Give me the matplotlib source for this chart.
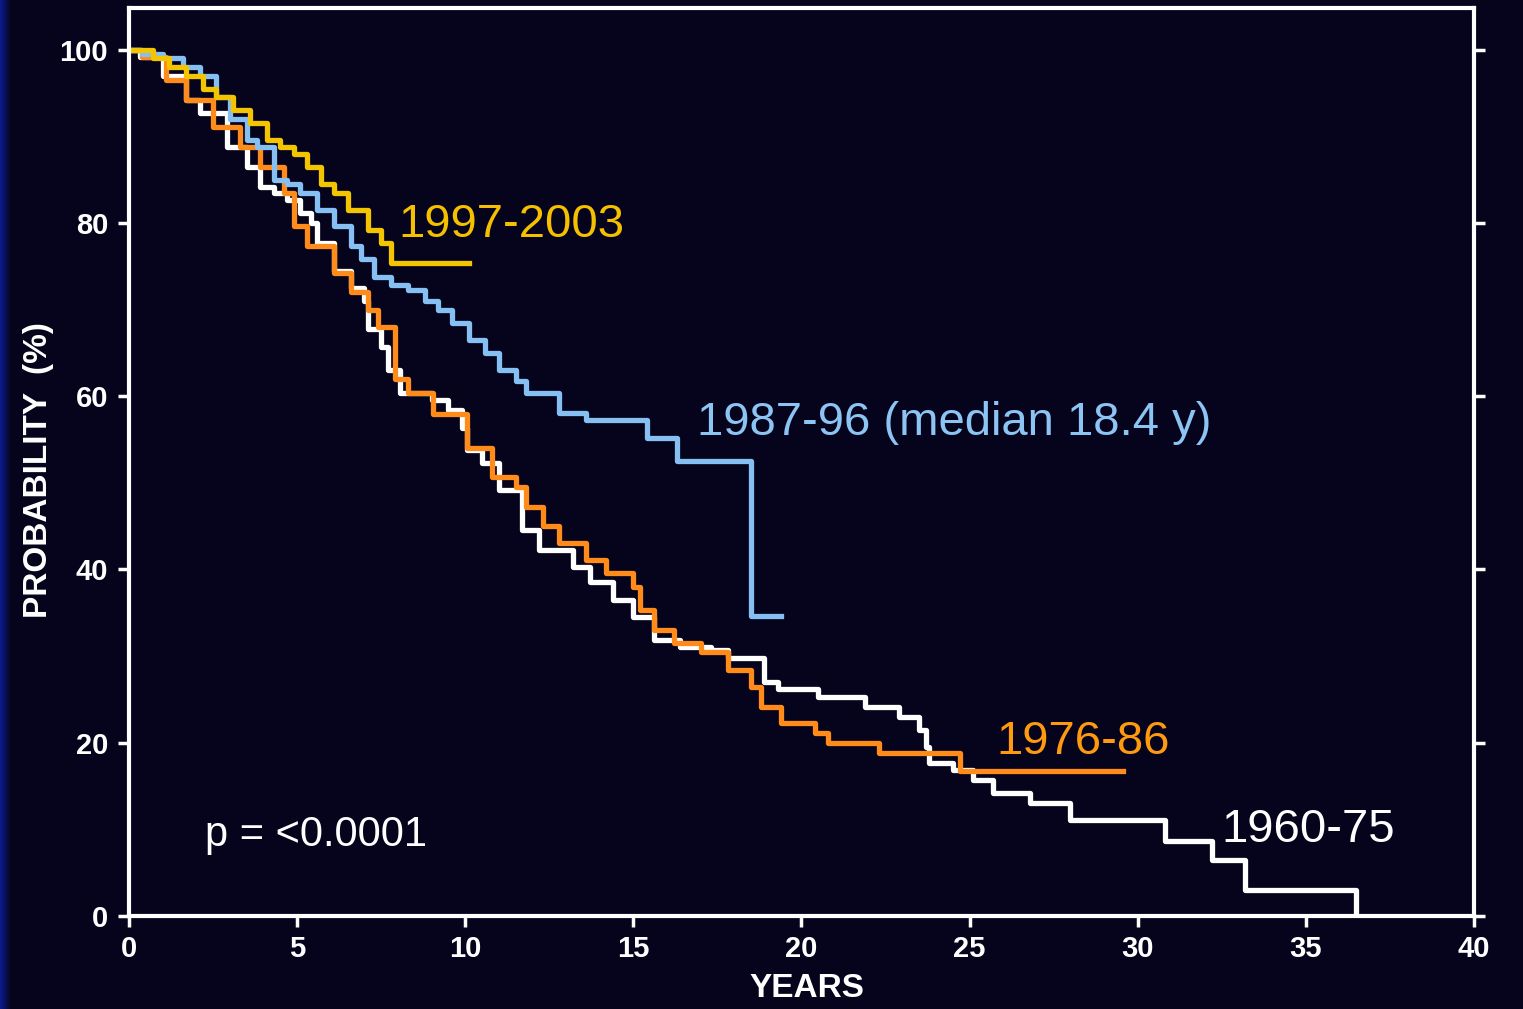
import matplotlib
matplotlib.use("Agg")
import matplotlib.pyplot as plt
import numpy as np
from matplotlib.colors import LinearSegmentedColormap

# Kaplan-Meier curves: years and survival [%]
t_1960 = [0, 0.33, 1.0, 1.7, 2.1, 2.9, 3.5, 3.9, 4.3, 4.7, 5.1, 5.4, 5.6, 6.1, 6.6, 7.0, 7.1, 7.5, 7.7, 8.07,
          9.0, 9.5, 9.9, 10.05, 10.5, 11.0, 11.7, 12.2, 13.2, 13.7, 14.4, 15.0, 15.6, 16.4, 17.3, 17.8, 18.9,
          19.3, 20.5, 21.9, 22.9, 23.5, 23.7, 23.8, 24.5, 25.1, 25.7, 26.8, 28.0, 30.8, 32.2, 33.2, 36.5]
s_1960 = [100, 99.2, 97, 94.2, 92.7, 88.8, 86.5, 84.2, 83.5, 82.7, 81.2, 80, 77.7, 74.5, 72.5, 71, 67.7, 65.7, 63, 60.4,
          59.6, 58.4, 56.3, 53.8, 52.3, 49.2, 44.6, 42.3, 40.3, 38.5, 36.5, 34.5, 31.9, 31.1, 30.7, 29.8, 27,
          26.2, 25.3, 24.1, 23, 21.5, 19.5, 17.7, 16.9, 15.7, 14.2, 13, 11.1, 8.7, 6.5, 3.0, 0]

t_1976 = [0, 0.4, 1.1, 1.7, 2.5, 3.3, 3.9, 4.6, 4.9, 5.3, 6.1, 6.6, 7.1, 7.4, 7.9, 8.3, 9.05, 10.05, 10.8, 11.5,
          11.8, 12.3, 12.8, 13.6, 14.2, 15.0, 15.2, 15.6, 16.2, 17.0, 17.8, 18.5, 18.8, 19.4, 20.4, 20.8, 22.3,
          24.7, 29.55]
s_1976 = [100, 99.2, 96.5, 94.2, 91.1, 88.8, 86.5, 83.5, 79.6, 77.3, 74.2, 72, 70, 68, 62, 60.4, 58, 54, 50.7, 49.5,
          47.2, 45, 43.1, 41.1, 39.6, 38, 35.3, 33, 31.5, 30.5, 28.4, 26.4, 24.1, 22.3, 21.1, 20, 18.8,
          16.7, 16.7]

t_1987 = [0, 0.4, 1.0, 1.6, 2.1, 2.6, 3.0, 3.5, 3.8, 4.3, 4.7, 5.1, 5.6, 6.1, 6.6, 6.9, 7.3, 7.8, 8.3, 8.8,
          9.2, 9.6, 10.1, 10.6, 11.0, 11.5, 11.8, 12.8, 13.6, 15.4, 16.3, 18.5, 19.4]
s_1987 = [100, 99.5, 99, 98, 97, 94.5, 92, 89.6, 88.8, 85, 84.5, 83.5, 81.5, 79.6, 77.3, 75.8, 73.8, 72.8, 72.3, 71,
          70, 68.5, 66.5, 65, 63, 61.7, 60.4, 58.1, 57.2, 55.2, 52.5, 34.6, 34.6]

t_1997 = [0, 0.7, 1.2, 1.7, 2.2, 2.6, 3.1, 3.6, 4.1, 4.5, 4.9, 5.3, 5.7, 6.1, 6.5, 7.1, 7.5, 7.8, 10.1]
s_1997 = [100, 99, 98, 97, 95.5, 94.5, 93, 91.5, 89.6, 88.8, 88, 86.5, 84.5, 83.5, 81.5, 79.2, 77.7, 75.4, 75.4]

x_ticks = [0, 5, 10, 15, 20, 25, 30, 35, 40]
y_ticks = [0, 20, 40, 60, 80, 100]

bg = '#06041c'
plt.rcParams['font.family'] = ['Liberation Sans', 'DejaVu Sans']

fig = plt.figure(figsize=(15.23, 10.09), dpi=100, facecolor=bg)

# blue glow strip on the left edge
strip = fig.add_axes([0, 0, 0.007, 1])
strip.imshow(np.linspace(0, 1, 50).reshape(1, -1), aspect='auto',
             cmap=LinearSegmentedColormap.from_list('s', ['#0c1c94', bg]), extent=[0, 1, 0, 1])
strip.axis('off')

ax = fig.add_axes([0.0847, 0.0922, 0.8831, 0.8998], facecolor=bg)

lw = 3.8
ax.step(t_1960, s_1960, where='post', color='white', lw=lw)
ax.step(t_1976, s_1976, where='post', color='#ff8c1a', lw=lw)
ax.step(t_1987, s_1987, where='post', color='#86bff2', lw=lw)
ax.step(t_1997, s_1997, where='post', color='#f2c500', lw=lw)

ax.set_xlim(0, 40)
ax.set_ylim(0, 104.8)
ax.set_xticks(x_ticks)
ax.set_yticks(y_ticks)

for s in ax.spines.values():
    s.set_color('white')
    s.set_linewidth(3)

ax.tick_params(axis='both', colors='white', direction='out', length=8, width=2.5, labelsize=21)
ax.tick_params(axis='y', right=True, pad=7)
ax.tick_params(axis='x', pad=6)
for lab in ax.get_xticklabels() + ax.get_yticklabels():
    lab.set_fontweight('bold')

ax.set_xlabel('YEARS', color='white', fontsize=24, fontweight='bold')
ax.xaxis.set_label_coords(0.504, -0.063)
ax.set_ylabel('PROBABILITY  (%)', color='white', fontsize=24, fontweight='bold')
ax.yaxis.set_label_coords(-0.056, 0.491)

ax.text(8.0, 79.8, '1997-2003', color='#f5c000', fontsize=34, va='center', ha='left')
ax.text(16.9, 56.9, '1987-96 (median 18.4 y)', color='#8cc4f4', fontsize=34, va='center', ha='left')
ax.text(25.8, 20.1, '1976-86', color='#ff9a10', fontsize=34, va='center', ha='left')
ax.text(32.5, 9.9, '1960-75', color='white', fontsize=34, va='center', ha='left')
ax.text(2.26, 9.35, 'p = <0.0001', color='white', fontsize=30, va='center', ha='left')

fig.savefig('out.png', dpi=100, facecolor=bg)
